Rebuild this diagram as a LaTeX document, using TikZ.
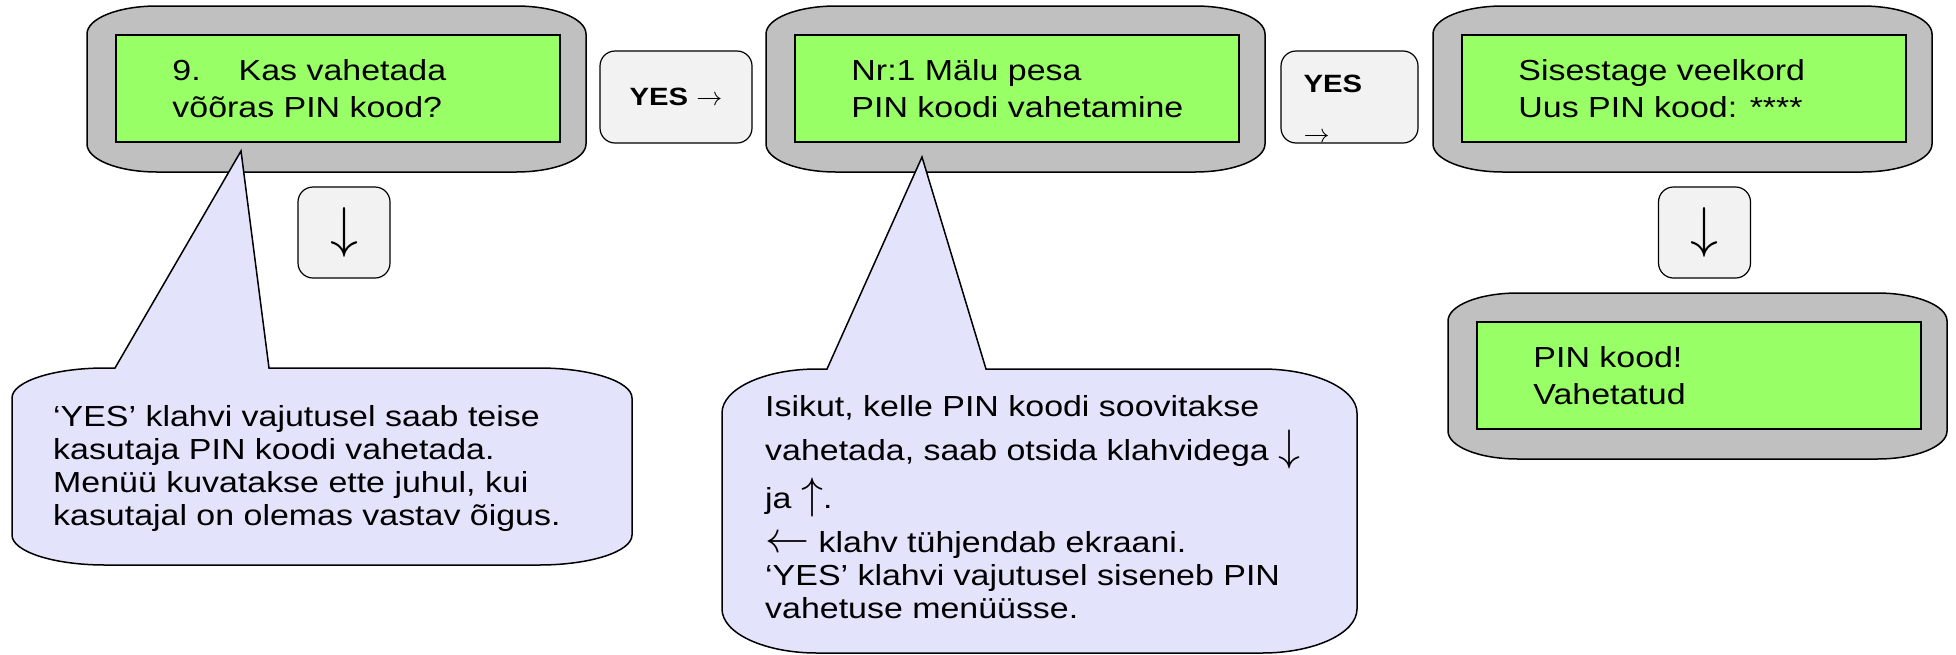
\RequirePackage{fix-cm}
\documentclass[tikz,border=0pt]{standalone}
\usepackage{fontspec}
\setmainfont{Liberation Sans}[FakeStretch=1.17]
\usetikzlibrary{positioning}

\definecolor{gris}{RGB}{192,192,192}
\definecolor{verde}{RGB}{153,255,102}
\definecolor{lila}{RGB}{227,227,251}
\definecolor{claro}{RGB}{242,242,242}

% flechas largas y finas
\newcommand{\flecha}[2]{\smash{\fontsize{#1}{#1}\selectfont$#2$}}

% caja gris con la pantalla verde dentro
\newcommand{\pantalla}[3]{%
  \filldraw[fill=gris,line width=1.5pt] (#2+70,#3) -- (#2+429,#3)
    .. controls (#2+468,#3) and (#2+499,#3+12.5) .. (#2+499,#3+28) -- (#2+499,#3+138)
    .. controls (#2+499,#3+153.5) and (#2+468,#3+166) .. (#2+429,#3+166) -- (#2+70,#3+166)
    .. controls (#2+31,#3+166) and (#2,#3+153.5) .. (#2,#3+138) -- (#2,#3+28)
    .. controls (#2,#3+12.5) and (#2+31,#3) .. (#2+70,#3) -- cycle;
  \node[verdebox] (#1) at (#2+251,#3+82.5) {};
}

% globo con su punta
\newcommand{\globo}[9]{%
  \filldraw[fill=lila,line width=1.5pt] (#1+#5,#2) -- (#7,#2) -- (#9) -- (#8,#2) -- (#3-#5,#2)
    .. controls (#3-0.4477*#5,#2) and (#3,#2+0.4477*#6) .. (#3,#2+#6) -- (#3,#4-#6)
    .. controls (#3,#4-0.4477*#6) and (#3-0.4477*#5,#4) .. (#3-#5,#4) -- (#1+#5,#4)
    .. controls (#1+0.4477*#5,#4) and (#1,#4-0.4477*#6) .. (#1,#4-#6) -- (#1,#2+#6)
    .. controls (#1,#2+0.4477*#6) and (#1+0.4477*#5,#2) .. (#1+#5,#2) -- cycle;
}

\begin{document}
\begin{tikzpicture}[x=1pt,y=-1pt,
  verdebox/.style={draw,fill=verde,line width=1.5pt,minimum width=444pt,minimum height=107pt,inner sep=0pt},
  pantext/.style={inner sep=0pt,align=left,font=\fontsize{29}{37}\selectfont},
  notatext/.style={inner sep=0pt,align=left,font=\fontsize{29}{33}\selectfont},
  boton/.style={draw,fill=claro,line width=1.2pt,rounded corners=15pt,inner sep=0pt}]
\useasboundingbox (0,0) rectangle (1956,654);

% pantallas
\pantalla{p1}{87}{6}
\pantalla{p2}{766}{6}
\pantalla{p3}{1433}{6}
\pantalla{p4}{1448}{293}
\node[pantext, right=57pt of p1.west] (t1) {9.\hspace{38pt}Kas vahetada\\võõras PIN kood?};
\node[pantext, right=57pt of p2.west] (t2) {Nr:1 Mälu pesa\\PIN koodi vahetamine};
\node[pantext, right=57pt of p3.west] (t3) {Sisestage veelkord\\Uus PIN kood: ****};
\node[pantext, right=57pt of p4.west] (t4) {PIN kood!\\Vahetatud};

% botones
\node[boton,minimum width=152pt,minimum height=92pt,font=\fontsize{25}{25}\selectfont] (si1) at (676,97) {\textbf{YES} \flecha{26}{\rightarrow}};
\node[boton,minimum width=137pt,minimum height=92pt] (si2) at (1349.5,97) {};
\node[inner sep=0pt,anchor=north west,align=left,font=\fontsize{25}{50}\selectfont] (si2t) at ([xshift=23pt,yshift=-24pt]si2.north west) {\textbf{YES}\\\flecha{26}{\rightarrow}};
\node[boton,minimum width=92pt,minimum height=91pt] (abajo1) at (344,232.5) {\raisebox{-11pt}{\fontsize{56}{56}\selectfont$\downarrow$}};
\node[boton,minimum width=92pt,minimum height=91pt] (abajo2) at (1704.5,232.5) {\raisebox{-11pt}{\fontsize{56}{56}\selectfont$\downarrow$}};

% globos
\coordinate (punta1) at (241,151);
\globo{12}{368}{632}{565}{93}{30}{115}{269}{punta1}
\node[notatext,anchor=west] (nota1) at (53,468) {‘YES’ klahvi vajutusel saab teise\\kasutaja PIN koodi vahetada.\\Menüü kuvatakse ette juhul, kui\\kasutajal on olemas vastav õigus.};

\coordinate (punta2) at (922,157);
\globo{722}{369}{1357}{653}{95}{44}{827}{986}{punta2}
\node[notatext,anchor=west] (nota2) at (765,507) {Isikut, kelle PIN koodi soovitakse\\[11pt]vahetada, saab otsida klahvidega \flecha{44}{\downarrow}\\[15pt]ja \flecha{44}{\uparrow}.\\[11pt]\flecha{44}{\leftarrow} klahv tühjendab ekraani.\\‘YES’ klahvi vajutusel siseneb PIN\\vahetuse menüüsse.};
\end{tikzpicture}
\end{document}
